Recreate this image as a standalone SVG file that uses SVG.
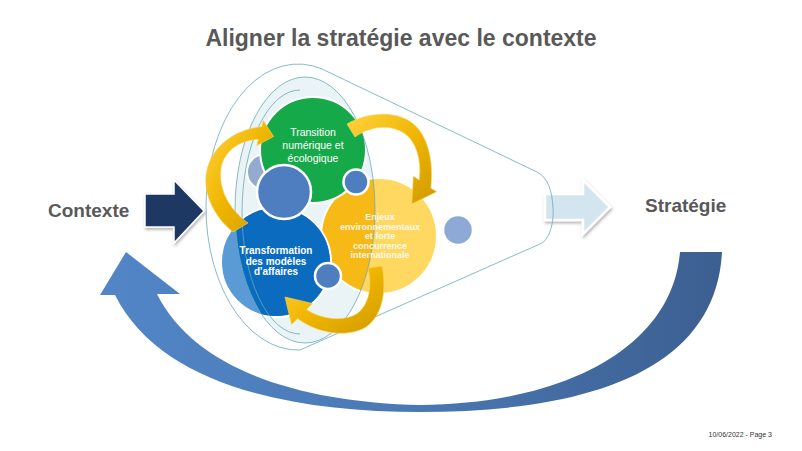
<svg xmlns="http://www.w3.org/2000/svg" width="802" height="451" viewBox="0 0 802 451">
<defs>
<style>
.t{font-family:"Liberation Sans",Arial,sans-serif}
.title{font-size:23px;font-weight:bold;fill:#595959}
.lab{font-size:19px;font-weight:bold;fill:#595959}
.ct{fill:#fff;text-anchor:middle}
.fun{fill:none;stroke:#6AAAB9;stroke-width:0.8}
.sc{stroke:#fff;stroke-width:2.5}
.mc{stroke:#fff;stroke-width:2}
.ya{fill:url(#gold);stroke:#F7D55A;stroke-width:0.6}
</style>
<linearGradient id="gold" x1="0" y1="0" x2="1" y2="1">
<stop offset="0" stop-color="#FFD23F"/><stop offset="0.5" stop-color="#F0B500"/><stop offset="1" stop-color="#CF9A00"/>
</linearGradient>
<linearGradient id="big" x1="0" y1="0" x2="1" y2="0">
<stop offset="0" stop-color="#5286C7"/><stop offset="0.5" stop-color="#4A78B4"/><stop offset="1" stop-color="#3C5F90"/>
</linearGradient>
<clipPath id="clipE"><ellipse cx="305" cy="210" rx="70" ry="133"/></clipPath>
<filter id="sh" x="-20%" y="-20%" width="140%" height="140%"><feDropShadow dx="1" dy="2" stdDeviation="1.5" flood-color="#000" flood-opacity="0.3"/></filter>
</defs>
<rect width="802" height="451" fill="#fff"/>

<text class="t title" x="401" y="46" text-anchor="middle">Aligner la stratégie avec le contexte</text>
<g id="n-contexte"><text class="t lab" x="48" y="217">Contexte</text></g>
<g id="n-strategie"><text class="t lab" x="645" y="212">Stratégie</text></g>

<g id="connectors">
<path id="c-return" d="M126,252 L180,294 L157,294 C195,370 300,402 420,405 C560,404 672,350 680,252 L722,252 C716,370 590,412 420,412 C290,412 160,385 115,295 L100,295 Z" fill="url(#big)"/>
<path id="c-out" d="M545,194 L583,194 L583,180 L610,207 L583,234 L583,220 L545,220 Z" fill="#D3E5EE" stroke="#fff" stroke-width="2.5" filter="url(#sh)"/>
</g>

<g id="n-cycle">
<ellipse cx="305" cy="210" rx="70" ry="133" fill="#EAF3F6"/>
<circle cx="265" cy="172" r="18" fill="#93ABCF" class="mc"/>
<g id="n-enjeux">
<circle cx="379" cy="236" r="58" fill="#FFD862" class="mc"/>
<g clip-path="url(#clipE)"><circle cx="379" cy="236" r="57" fill="#F7B916"/></g>
</g>
<g id="n-transition"><circle cx="313" cy="150" r="53" fill="#16A94A" class="mc"/></g>
<g id="n-transformation">
<circle cx="276" cy="262" r="55" fill="#5A9BD5" class="mc"/>
<g clip-path="url(#clipE)"><circle cx="276" cy="262" r="54" fill="#0A6BBF"/></g>
</g>
<circle cx="284" cy="192" r="27" fill="#4E7EC0" class="sc"/>
<circle cx="356" cy="182" r="12.5" fill="#4E7EC0" class="sc"/>
<circle cx="328" cy="276" r="13" fill="#4E7EC0" class="sc"/>
<circle cx="458" cy="230" r="15" fill="#8DAAD7" class="sc"/>

<path class="fun" d="M537,172 L322,69 A92 143 0 1 0 300,350 L540,244 C550,240 554,222 553,208 C552,190 548,178 537,172 Z"/>
<ellipse class="fun" cx="305" cy="210" rx="70" ry="133"/>
<path class="fun" d="M300,90 A58 122 0 0 0 300,334"/>

<text class="t ct" font-size="10.5"><tspan x="313" y="136">Transition</tspan><tspan x="313" y="149">numérique et</tspan><tspan x="313" y="162">écologique</tspan></text>
<text class="t ct" font-size="10" font-weight="bold"><tspan x="276" y="254">Transformation</tspan><tspan x="276" y="264.5">des modèles</tspan><tspan x="276" y="275">d'affaires</tspan></text>
<text class="t ct" font-size="9" font-weight="bold" fill-opacity="0.9"><tspan x="380" y="220">Enjeux</tspan><tspan x="380" y="229.5">environnementaux</tspan><tspan x="380" y="239">et forte</tspan><tspan x="380" y="248.5">concurrence</tspan><tspan x="380" y="258">internationale</tspan></text>

<path class="ya" d="M347,124 C366,113 393,110 411,122 C428,134 434,162 430.8,187.9 L436.6,191.7 L411.8,204 L413.4,176.3 L419.2,180.1 C422,160 416,141 404,133 C390,124 370,126 355,137 Z"/>
<path class="ya" d="M233,232 C212,215 202,190 207,170 C212,148 232,130 261.6,126.7 L263.3,120.4 L273.6,136.5 L256.8,145.6 L258.4,139.3 C238,140 224,152 221,168 C218,190 230,210 248,223 Z"/>
<path class="ya" d="M382,266 C387,292 382,316 366,327 C348,338 318,334 297.5,318.5 L291.5,324.5 L285,297 L312.5,303.5 L306.5,309.5 C322,320 345,322 358,313 C370,303 372,285 368,268 Z"/>
</g>

<g id="c-in"><path d="M145,194 L174,194 L174,180 L204,211 L174,243 L174,227 L145,227 Z" fill="#1F3864" stroke="#fff" stroke-width="1.5" filter="url(#sh)"/></g>

<text class="t" x="772" y="437" font-size="7" fill="#333" text-anchor="end">10/06/2022 - Page 3</text>
</svg>
